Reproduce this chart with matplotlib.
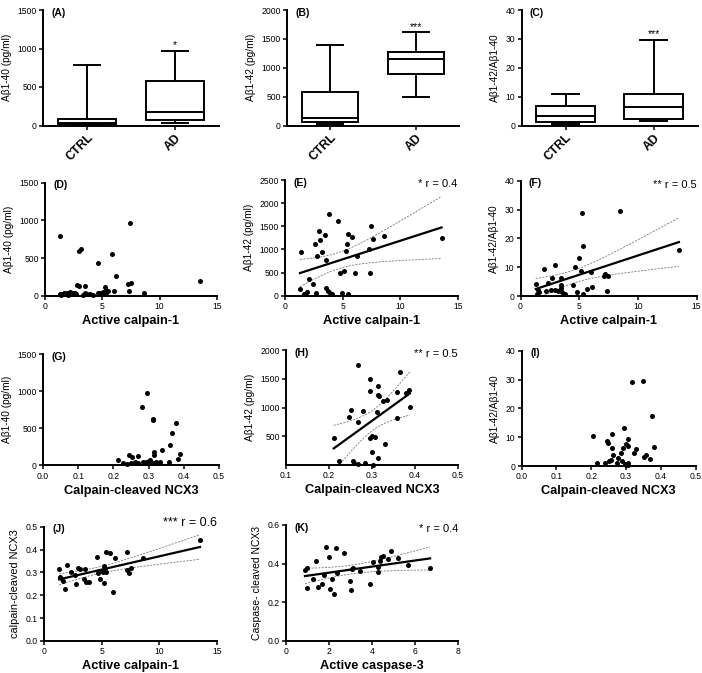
import numpy as np
import matplotlib
matplotlib.use('Agg')
import matplotlib.pyplot as plt

plt.rcParams['font.family'] = ['Liberation Sans', 'DejaVu Sans']

# ---------------- data ----------------
groups = ['CTRL', 'AD']
# box stats: [low whisker, Q1, median, Q3, high whisker]
a_ctrl = [8, 15, 30, 78, 787]
a_ad = [35, 65, 169, 579, 964]
b_ctrl = [23, 58, 138, 576, 1395]
b_ad = [490, 888, 1147, 1280, 1614]
c_ctrl = [0.5, 1.2, 3.3, 6.7, 11.0]
c_ad = [1.6, 2.2, 6.3, 10.9, 29.6]
sig_a, sig_b, sig_c = '*', '***', '***'

d_x = [1.35, 3.0, 3.1, 4.6, 5.8, 7.4, 6.2, 13.5, 7.5, 7.2, 7.3, 8.6, 6.0, 2.8, 3.0, 3.5, 5.2, 5.35, 1.3, 1.5,
       1.7, 1.9, 2.2, 2.4, 2.6, 2.7, 3.5, 3.7, 3.9, 4.6, 4.8, 5.0, 5.1, 5.3, 5.5, 1.4, 2.0, 4.2, 3.3]
d_y = [790, 590, 615, 430, 560, 970, 265, 195, 170, 150, 65, 40, 60, 140, 130, 125, 110, 75, 25, 20,
       30, 35, 50, 30, 35, 20, 40, 25, 20, 40, 30, 20, 45, 30, 60, 15, 15, 15, 10]

e_x = [1.39, 1.3, 1.65, 1.88, 2.06, 2.4, 2.69, 2.64, 2.81, 2.98, 3.04, 3.19, 3.45, 3.56, 3.79, 3.6, 3.7, 3.9,
       4.1, 4.63, 4.78, 4.95, 5.15, 5.27, 5.36, 5.47, 5.47, 5.82, 6.11, 6.28, 7.27, 7.38, 7.5, 7.62, 8.6, 13.6]
e_y = [937, 137, 36, 86, 367, 252, 65, 1117, 857, 1390, 1203, 937, 1311, 771, 1758, 158, 108, 50,
       29, 1621, 497, 50, 533, 973, 1117, 1326, 29, 1275, 483, 850, 1016, 497, 1506, 1232, 1297, 1239]
e_r = '* r = 0.4'

f_x = [5.22, 8.47, 5.36, 5.0, 4.67, 2.94, 2.0, 5.19, 6.03, 7.17, 7.08, 7.44, 7.33, 2.72, 3.47, 1.3, 2.36,
       3.47, 4.5, 6.1, 5.69, 1.47, 1.58, 1.39, 2.58, 2.92, 3.2, 3.56, 3.75, 3.42, 4.8, 5.33, 2.2, 13.5]
f_y = [28.7, 29.4, 17.2, 13.1, 10.2, 10.9, 9.2, 8.5, 8.2, 7.7, 6.8, 7.1, 1.7, 6.2, 6.1, 4.3, 4.6,
       3.7, 3.7, 3.2, 2.3, 2.2, 1.4, 0.8, 2.0, 2.0, 1.7, 1.4, 0.8, 2.9, 1.4, 0.8, 1.7, 16.0]
f_r = '** r = 0.5'

g_x = [0.295, 0.281, 0.312, 0.313, 0.379, 0.366, 0.36, 0.338, 0.314, 0.314, 0.388, 0.384, 0.214, 0.226,
       0.245, 0.253, 0.269, 0.26, 0.269, 0.283, 0.293, 0.30, 0.304, 0.308, 0.314, 0.322, 0.331, 0.357,
       0.25, 0.24]
g_y = [979, 790, 624, 604, 566, 436, 269, 202, 175, 139, 157, 81, 72, 36, 139, 117, 126, 45, 27, 40,
       49, 63, 76, 49, 27, 40, 40, 49, 27, 18]

h_x = [0.268, 0.295, 0.295, 0.314, 0.313, 0.316, 0.366, 0.357, 0.38, 0.385, 0.388, 0.326, 0.336, 0.311,
       0.252, 0.246, 0.278, 0.268, 0.359, 0.211, 0.295, 0.299, 0.306, 0.299, 0.331, 0.313, 0.223, 0.255,
       0.259, 0.267, 0.283, 0.303]
h_y = [1739, 1496, 1293, 1380, 1217, 1200, 1612, 1275, 1258, 1304, 1003, 1113, 1130, 928, 957, 841, 933,
       754, 823, 475, 464, 504, 481, 232, 359, 128, 70, 70, 29, 17, 41, 6]
h_r = '** r = 0.5'

i_x = [0.317, 0.348, 0.375, 0.294, 0.206, 0.26, 0.244, 0.249, 0.307, 0.301, 0.306, 0.292, 0.26, 0.33,
       0.38, 0.322, 0.287, 0.263, 0.351, 0.358, 0.369, 0.277, 0.252, 0.257, 0.218, 0.24, 0.273, 0.289,
       0.296, 0.30, 0.305, 0.306]
i_y = [29.0, 29.6, 17.3, 13.3, 10.4, 11.0, 8.8, 8.1, 9.4, 7.6, 7.1, 6.1, 6.4, 5.9, 6.7, 4.4, 4.4, 3.8,
       3.2, 3.7, 2.4, 2.7, 1.8, 2.1, 1.2, 0.9, 1.2, 1.6, 0.8, 0.5, 1.2, 0.4]

j_x = [1.31, 1.39, 1.6, 1.65, 1.83, 2.03, 2.38, 2.7, 2.81, 2.96, 3.13, 3.57, 3.48, 3.68, 3.92, 4.58, 4.7,
       4.87, 5.02, 5.13, 5.25, 5.31, 5.37, 5.25, 5.42, 5.74, 6.18, 6.03, 7.17, 7.25, 7.34, 7.54, 8.6, 13.55]
j_y = [0.316, 0.281, 0.271, 0.262, 0.227, 0.332, 0.303, 0.289, 0.249, 0.318, 0.315, 0.315, 0.271, 0.257,
       0.259, 0.369, 0.299, 0.271, 0.306, 0.303, 0.329, 0.321, 0.303, 0.255, 0.388, 0.383, 0.362, 0.213,
       0.391, 0.311, 0.296, 0.318, 0.362, 0.442]
j_r = '*** r = 0.6'

k_x = [0.88, 0.96, 0.99, 1.24, 1.39, 1.5, 1.69, 1.76, 1.86, 2.01, 2.04, 2.12, 2.23, 2.32, 2.35, 2.71, 2.97,
       3.02, 3.05, 3.13, 3.44, 3.9, 4.06, 4.26, 4.29, 4.37, 4.4, 4.52, 4.75, 4.88, 5.22, 5.65, 6.69]
k_y = [0.367, 0.376, 0.276, 0.321, 0.416, 0.279, 0.295, 0.341, 0.484, 0.433, 0.267, 0.319, 0.245, 0.479,
       0.35, 0.453, 0.312, 0.264, 0.372, 0.376, 0.362, 0.297, 0.407, 0.384, 0.359, 0.416, 0.433, 0.441,
       0.424, 0.466, 0.428, 0.393, 0.376]
k_r = '* r = 0.4'

# ---------------- figure ----------------
W, H = 702, 673
fig = plt.figure(figsize=(W / 100, H / 100), dpi=100)
LW = 1.4
TICK_FS = 6.2
YLAB_FS = 7.3
XLAB_FS = 9.2


def add_ax(l, t, r, b):
    ax = fig.add_axes([l / W, 1 - b / H, (r - l) / W, (b - t) / H])
    for s in ['top', 'right']:
        ax.spines[s].set_visible(False)
    for s in ['left', 'bottom']:
        ax.spines[s].set_linewidth(LW)
    ax.tick_params(direction='out', length=3, width=1.1, labelsize=TICK_FS, pad=1.5)
    return ax


def panel_label(ax, lab):
    ax.annotate(lab, xy=(0, 1), xycoords='axes fraction', xytext=(6, -2), textcoords='offset points',
                ha='left', va='center', fontsize=7.5, fontweight='bold')


def r_label(ax, txt, dy=-3, fs=8):
    ax.annotate(txt, xy=(1, 1), xycoords='axes fraction', xytext=(0, dy), textcoords='offset points',
                ha='right', va='center', fontsize=fs)


def box_panel(ax, ctrl, ad, sig, ylim, yticks, ylabel, lab):
    stats = []
    for name, v in zip(groups, [ctrl, ad]):
        stats.append(dict(whislo=v[0], q1=v[1], med=v[2], q3=v[3], whishi=v[4], label=name))
    lp = dict(color='black', linewidth=LW)
    ax.bxp(stats, positions=[0, 1], widths=0.66, showfliers=False, patch_artist=True,
           boxprops=dict(facecolor='white', edgecolor='black', linewidth=LW),
           medianprops=lp, whiskerprops=lp, capprops=lp, capwidths=0.3)
    ax.set_xlim(-0.5, 1.5)
    ax.set_ylim(*ylim)
    ax.set_yticks(yticks)
    ax.set_xticks([0, 1])
    ax.set_xticklabels(groups, rotation=45, ha='right', rotation_mode='anchor',
                       fontsize=8.8, fontweight='bold')
    ax.set_ylabel(ylabel, fontsize=YLAB_FS, labelpad=4)
    ax.annotate(sig, xy=(1, ad[4]), xytext=(0, 0.5), textcoords='offset points',
                ha='center', va='bottom', fontsize=7.5)
    panel_label(ax, lab)


def fit_band(ax, x, y):
    x = np.asarray(x, float)
    y = np.asarray(y, float)
    n = len(x)
    b, a = np.polyfit(x, y, 1)
    xs = np.linspace(x.min(), x.max(), 200)
    yh = a + b * xs
    resid = y - (a + b * x)
    s = np.sqrt(np.sum(resid ** 2) / (n - 2))
    sxx = np.sum((x - x.mean()) ** 2)
    df = n - 2
    t = 1.96 + 2.37 / df + 2.8 / df ** 2
    se = s * np.sqrt(1.0 / n + (xs - x.mean()) ** 2 / sxx)
    ax.plot(xs, yh, color='black', lw=1.6, zorder=4)
    for sign in (1, -1):
        ax.plot(xs, yh + sign * t * se, color='#7a7a7a', lw=0.6, ls=(0, (2.5, 1.5)), zorder=2)


def scatter_panel(ax, x, y, xlim, xticks, ylim, yticks, xlabel, ylabel, lab, xfmt=None, yfmt=None,
                  fit=False, rtxt=None, rdy=-3, rfs=8, ylfs=YLAB_FS):
    if fit:
        fit_band(ax, x, y)
    ax.scatter(x, y, s=13, color='black', zorder=3, clip_on=False, linewidths=0)
    ax.set_xlim(*xlim)
    ax.set_ylim(*ylim)
    ax.set_xticks(xticks)
    ax.set_yticks(yticks)
    if xfmt:
        ax.set_xticklabels([xfmt.format(v) for v in xticks])
    if yfmt:
        ax.set_yticklabels([yfmt.format(v) for v in yticks])
    ax.set_xlabel(xlabel, fontsize=XLAB_FS, fontweight='bold', labelpad=3)
    ax.set_ylabel(ylabel, fontsize=ylfs, labelpad=4)
    panel_label(ax, lab)
    if rtxt:
        r_label(ax, rtxt, rdy, rfs)


# Row 1: box plots
axA = add_ax(43, 10, 219, 125.5)
box_panel(axA, a_ctrl, a_ad, sig_a, (0, 1500), [0, 500, 1000, 1500], 'Aβ1-40 (pg/ml)', '(A)')
axB = add_ax(287, 10, 459, 125.7)
box_panel(axB, b_ctrl, b_ad, sig_b, (0, 2000), [0, 500, 1000, 1500, 2000], 'Aβ1-42 (pg/ml)', '(B)')
axC = add_ax(521.5, 10, 697.5, 125.7)
box_panel(axC, c_ctrl, c_ad, sig_c, (0, 40), [0, 10, 20, 30, 40], 'Aβ1-42/Aβ1-40', '(C)')

# Row 2
cal = 'Active calpain-1'
ncx = 'Calpain-cleaved NCX3'
axD = add_ax(45, 182.7, 217, 295.7)
scatter_panel(axD, d_x, d_y, (0, 15), [0, 5, 10, 15], (0, 1500), [0, 500, 1000, 1500],
              cal, 'Aβ1-40 (pg/ml)', '(D)')
axE = add_ax(285, 180, 457.7, 295.7)
scatter_panel(axE, e_x, e_y, (0, 15), [0, 5, 10, 15], (0, 2500), [0, 500, 1000, 1500, 2000, 2500],
              cal, 'Aβ1-42 (pg/ml)', '(E)', fit=True, rtxt=e_r)
axF = add_ax(520.5, 180.7, 696.5, 296)
scatter_panel(axF, f_x, f_y, (0, 15), [0, 5, 10, 15], (0, 40), [0, 10, 20, 30, 40],
              cal, 'Aβ1-42/Aβ1-40', '(F)', fit=True, rtxt=f_r)

# Row 3
axG = add_ax(43, 354, 219, 465.3)
scatter_panel(axG, g_x, g_y, (0, 0.5), [0, 0.1, 0.2, 0.3, 0.4, 0.5], (0, 1500), [0, 500, 1000, 1500],
              ncx, 'Aβ1-40 (pg/ml)', '(G)', xfmt='{:.1f}')
axH = add_ax(286, 350, 458, 465)
scatter_panel(axH, h_x, h_y, (0.1, 0.5), [0.1, 0.2, 0.3, 0.4, 0.5], (0, 2000), [500, 1000, 1500, 2000],
              ncx, 'Aβ1-42 (pg/ml)', '(H)', xfmt='{:.1f}', fit=True, rtxt=h_r)
axI = add_ax(521.7, 350.7, 695.5, 466)
scatter_panel(axI, i_x, i_y, (0, 0.5), [0, 0.1, 0.2, 0.3, 0.4, 0.5], (0, 40), [0, 10, 20, 30, 40],
              ncx, 'Aβ1-42/Aβ1-40', '(I)', xfmt='{:.1f}')

# Row 4
axJ = add_ax(44, 526.7, 216.7, 641)
scatter_panel(axJ, j_x, j_y, (0, 15), [0, 5, 10, 15], (0, 0.5), [0, 0.1, 0.2, 0.3, 0.4, 0.5],
              cal, 'calpain-cleaved NCX3', '(J)', yfmt='{:.1f}', fit=True, rtxt=j_r, rdy=3,
              rfs=9, ylfs=7.9)
axK = add_ax(286, 525, 458.3, 641)
scatter_panel(axK, k_x, k_y, (0, 8), [0, 2, 4, 6, 8], (0, 0.6), [0, 0.2, 0.4, 0.6],
              'Active caspase-3', 'Caspase- cleaved NCX3', '(K)', yfmt='{:.1f}', fit=True, rtxt=k_r,
              ylfs=7.5)

fig.savefig('out.png', dpi=100)
